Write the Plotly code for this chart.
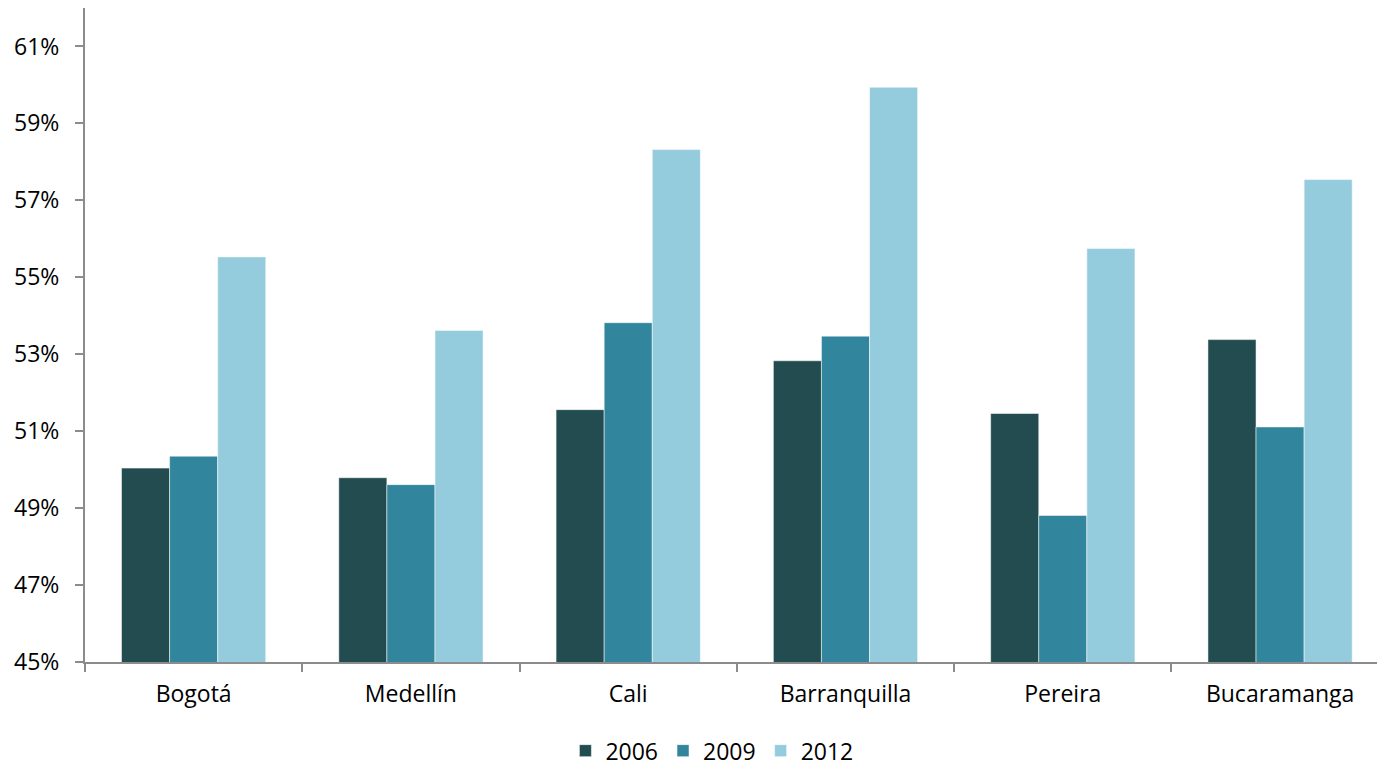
import plotly.graph_objects as go

# Share by city and survey year (percent)
cities = ["Bogotá", "Medellín", "Cali", "Barranquilla", "Pereira", "Bucaramanga"]
years = ["2006", "2009", "2012"]
values_2006 = [50.04, 49.79, 51.56, 52.83, 51.46, 53.38]
values_2009 = [50.35, 49.61, 53.82, 53.47, 48.81, 51.11]
values_2012 = [55.53, 53.62, 58.32, 59.94, 55.75, 57.54]
y_ticks = [45, 47, 49, 51, 53, 55, 57, 59, 61]
y_tick_labels = [f"{v}%" for v in y_ticks]

colors = ["#234C50", "#31859C", "#95CCDD"]
series = [values_2006, values_2009, values_2012]

FONT = "Open Sans, sans-serif"
FONT_SIZE = 23
AXIS_GRAY = "#8C8C8C"

fig = go.Figure()
for name, vals, col in zip(years, series, colors):
    fig.add_trace(go.Bar(
        x=cities, y=vals, name=name,
        marker=dict(color=col, line=dict(color="rgba(255,255,255,0.5)", width=1)),
        hoverinfo="x+y+name",
    ))

fig.update_layout(
    width=1377, height=766,
    margin=dict(l=85, r=0, t=8, b=104, autoexpand=False),
    paper_bgcolor="white", plot_bgcolor="white",
    barmode="group", bargap=0.336, bargroupgap=0,
    font=dict(family=FONT, size=FONT_SIZE, color="#000000"),
    showlegend=True,
    legend=dict(
        orientation="h", xref="container", yref="container",
        x=0.517, xanchor="center", y=0.02, yanchor="middle",
        font=dict(family=FONT, size=FONT_SIZE, color="#000000"),
        itemwidth=30, traceorder="normal",
    ),
    xaxis=dict(
        type="category", range=[-0.5, 5.446],
        showline=True, linecolor=AXIS_GRAY, linewidth=2,
        ticks="outside", tickson="boundaries", ticklen=8, tickcolor=AXIS_GRAY, tickwidth=2,
        ticklabelstandoff=10,
        showgrid=False, zeroline=False,
        tickfont=dict(family=FONT, size=FONT_SIZE, color="#000000"),
    ),
    yaxis=dict(
        range=[45, 62],
        tickvals=y_ticks, ticktext=y_tick_labels,
        showline=True, linecolor=AXIS_GRAY, linewidth=2,
        ticks="outside", ticklen=8, tickcolor=AXIS_GRAY, tickwidth=2,
        ticklabelstandoff=11,
        showgrid=False, zeroline=False,
        tickfont=dict(family=FONT, size=FONT_SIZE, color="#000000"),
    ),
)

fig.write_html("out.html")
